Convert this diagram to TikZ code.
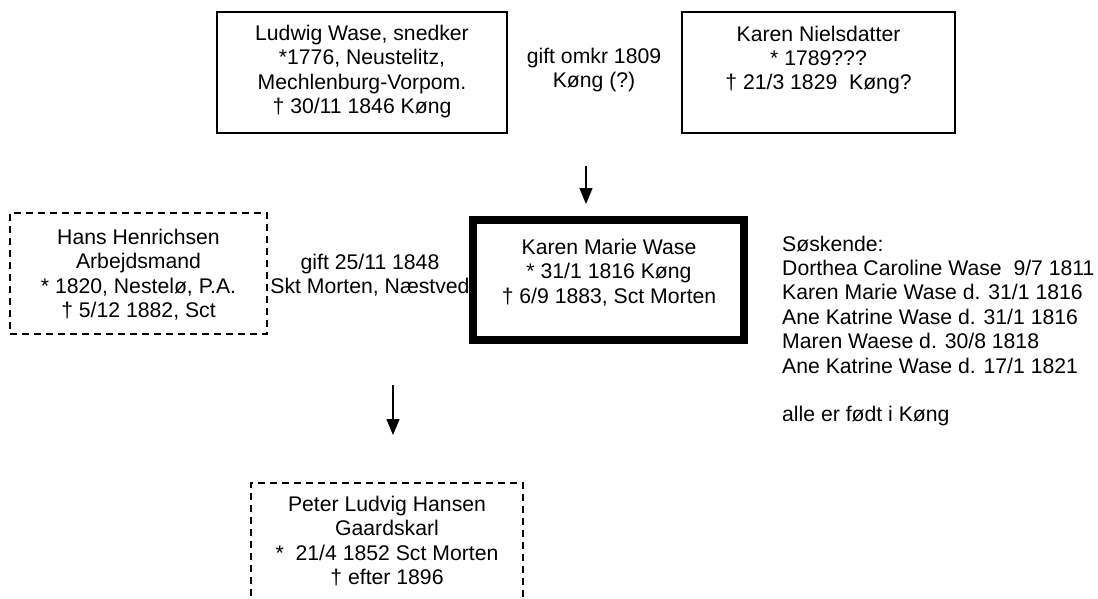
\documentclass[tikz,border=0pt]{standalone}
\usepackage{fontspec}
\setmainfont{Liberation Sans}
\usetikzlibrary{arrows.meta,positioning}
\tikzset{
  pbox/.style ={draw,line width=1.3pt,inner sep=0pt},
  dbox/.style ={pbox,dash pattern=on 7pt off 5pt},
  mbox/.style ={draw,line width=8pt,inner sep=0pt},
  ptxt/.style ={align=center,inner sep=0pt},
  down/.style ={-{Triangle[length=16pt,width=13pt]},line width=1.3pt},
}

\begin{document}
\begin{tikzpicture}[x=1pt,y=-1pt,font=\fontsize{21.2}{24.4}\selectfont]
  \useasboundingbox (0,0) rectangle (1098,599);
  % parents
  \node[pbox,minimum width=290pt,minimum height=121pt] (ludwig) at (362,72.5) {};
  \node[ptxt] (ludwigtxt) at (362,71.5) {Ludwig Wase, snedker\\*1776, Neustelitz,\\Mechlenburg-Vorpom.\\† 30/11 1846 Køng};
  \node[ptxt] (gift1) at (594,70) {gift omkr 1809\\Køng (?)};
  \node[pbox,minimum width=273pt,minimum height=121pt] (karenn) at (818.5,72.5) {};
  \node[ptxt] (karenntxt) at (818.5,60) {Karen Nielsdatter\\* 1789???\\† 21/3 1829~~Køng?};
  \coordinate (a1s) at (586,166);
  \coordinate (a1e) at (586,204);
  \draw[down] (a1s) -- (a1e);
  % Karen Marie and husband
  \node[dbox,minimum width=257pt,minimum height=121pt] (hans) at (138.5,273.5) {};
  \node[ptxt] (hanstxt) at (138.5,274.5) {Hans Henrichsen\\Arbejdsmand\\* 1820, Nestelø, P.A.\\† 5/12 1882, Sct};
  \node[ptxt] (gift2) at (370,275) {gift 25/11 1848\\Skt Morten, Næstved};
  \node[mbox,minimum width=271pt,minimum height=120pt] (karenm) at (608.5,280) {};
  \node[ptxt] (karenmtxt) at (609,272.5) {Karen Marie Wase\\* 31/1 1816 Køng\\† 6/9 1883, Sct Morten};
  \node[ptxt,align=left,anchor=west] (sosk) at (782,331) {Søskende:\\Dorthea Caroline Wase~~9/7 1811\\Karen Marie Wase d. 31/1 1816\\Ane Katrine Wase d. 31/1 1816\\Maren Waese d. 30/8 1818\\Ane Katrine Wase d. 17/1 1821\\[24.4pt]alle er født i Køng};
  % child
  \coordinate (a2s) at (393,385);
  \coordinate (a2e) at (393,435);
  \draw[down] (a2s) -- (a2e);
  \node[dbox,minimum width=272pt,minimum height=118pt] (peter) at (387,542) {};
  \node[ptxt] (petertxt) at (387,541) {Peter Ludvig Hansen\\Gaardskarl\\*~~21/4 1852 Sct Morten\\† efter 1896};
\end{tikzpicture}
\end{document}
